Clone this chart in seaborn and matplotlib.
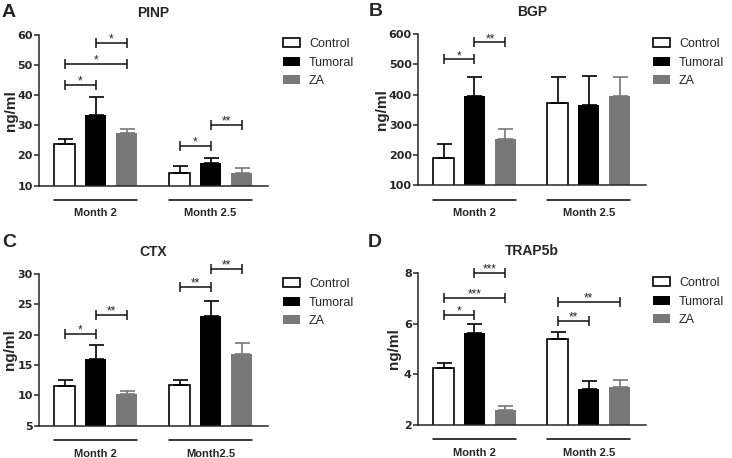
import matplotlib
matplotlib.use("Agg")
import matplotlib.pyplot as plt
import seaborn as sns
import pandas as pd

groups = ["Control", "Tumoral", "ZA"]
palette = ["#ffffff", "#000000", "#787878"]
err_colors = ["#000000", "#000000", "#787878"]

# Panel A - PINP
pinp_months = ["Month 2", "Month 2.5"]
pinp_control = [23.8, 14.1]
pinp_tumoral = [33.5, 17.6]
pinp_za = [27.3, 14.3]
pinp_control_err = [1.6, 2.2]
pinp_tumoral_err = [5.7, 1.6]
pinp_za_err = [1.4, 1.4]
pinp_sig = [(0, 0, 1, 43.3, "*"), (0, 0, 2, 50.2, "*"), (0, 1, 2, 57.2, "*"),
            (1, 0, 1, 23.1, "*"), (1, 1, 2, 30.0, "**")]

# Panel B - BGP
bgp_months = ["Month 2", "Month 2.5"]
bgp_control = [189, 371]
bgp_tumoral = [396, 364]
bgp_za = [254, 396]
bgp_control_err = [46, 86]
bgp_tumoral_err = [62, 96]
bgp_za_err = [31, 61]
bgp_sig = [(0, 0, 1, 516, "*"), (0, 1, 2, 572, "**")]

# Panel C - CTX
ctx_months = ["Month 2", "Month2.5"]
ctx_control = [11.5, 11.7]
ctx_tumoral = [16.0, 23.0]
ctx_za = [10.3, 16.8]
ctx_control_err = [1.1, 0.8]
ctx_tumoral_err = [2.3, 2.6]
ctx_za_err = [0.5, 1.8]
ctx_sig = [(0, 0, 1, 20.1, "*"), (0, 1, 2, 23.2, "**"),
           (1, 0, 1, 27.9, "**"), (1, 1, 2, 30.9, "**")]

# Panel D - TRAP5b
trap_months = ["Month 2", "Month 2.5"]
trap_control = [4.25, 5.41]
trap_tumoral = [5.64, 3.43]
trap_za = [2.58, 3.48]
trap_control_err = [0.21, 0.27]
trap_tumoral_err = [0.36, 0.30]
trap_za_err = [0.15, 0.29]
trap_sig = [(0, 0, 1, 6.35, "*"), (0, 0, 2, 7.02, "***"), (0, 1, 2, 8.0, "***"),
            (1, 0, 1, 6.11, "**"), (1, 0, 2, 6.85, "**")]

sns.set_style("ticks")
plt.rcParams["font.family"] = ["Liberation Sans", "DejaVu Sans"]

W, H = 732, 458
fig = plt.figure(figsize=(W / 100, H / 100), dpi=100)


def rect(l, r, t, b):
    return [l / W, 1 - b / H, (r - l) / W, (b - t) / H]


def panel(r, months, means, errs, ylim, yticks, sig, title, letter, letter_px,
          legend_px, ylabel_x):
    ax = fig.add_axes(rect(*r))
    df = pd.DataFrame({
        "month": [m for g in groups for m in months],
        "group": [g for g in groups for _ in months],
        "value": [v for arr in means for v in arr],
    })
    sns.barplot(data=df, x="month", y="value", hue="group", order=months,
                hue_order=groups, palette=palette, saturation=1, width=0.81,
                gap=0.32, errorbar=None, legend=False, ax=ax)
    bars = list(ax.containers)
    for i, cont in enumerate(bars):
        for p in cont:
            if i == 0:
                p.set_edgecolor("black")
                p.set_linewidth(1.2)
            else:
                p.set_edgecolor(palette[i])
                p.set_linewidth(0)
        xs = [p.get_x() + p.get_width() / 2 for p in cont]
        ax.errorbar(xs, means[i], yerr=[[0] * len(xs), errs[i]], fmt="none",
                    ecolor=err_colors[i], elinewidth=1.2, capsize=5.4,
                    capthick=1.2)

    def cx(h, m):
        p = bars[h][m]
        return p.get_x() + p.get_width() / 2

    for (m, a, b, y, s) in sig:
        x1, x2 = cx(a, m), cx(b, m)
        ax.plot([x1, x2], [y, y], color="#111111", lw=1.1, marker="|", ms=7,
                mew=1.1, clip_on=False, solid_capstyle="butt")
        ax.annotate(s, xy=((x1 + x2) / 2, y), xytext=(0, 0.3),
                    textcoords="offset points", ha="center", va="baseline",
                    fontsize=8.5, annotation_clip=False)

    for m in range(len(months)):
        xl = bars[0][m].get_x()
        xr = bars[2][m].get_x() + bars[2][m].get_width()
        ax.plot([xl, xr], [-0.096, -0.096], transform=ax.get_xaxis_transform(),
                color="black", lw=1.1, clip_on=False)

    ax.set_xlim(-0.494, 1.5)
    ax.set_ylim(*ylim)
    ax.set_yticks(yticks)
    sns.despine(ax=ax)
    for sp in ("left", "bottom"):
        ax.spines[sp].set_linewidth(1.1)
    ax.set_xlabel("")
    ax.set_ylabel("ng/ml", fontsize=11, fontweight="bold")
    ax.yaxis.set_label_coords(ylabel_x, 0.5)
    ax.tick_params(axis="y", length=3.5, width=1.1, labelsize=8, pad=1)
    ax.tick_params(axis="x", length=0, pad=16.5, labelsize=8)
    for t in ax.get_xticklabels():
        t.set_fontweight("bold")
    for t in ax.get_yticklabels():
        t.set_fontweight("bold")
        t.set_fontfamily("DejaVu Sans")
    ax.set_title(title, fontsize=10, fontweight="bold", pad=13)
    fig.text(letter_px[0] / W, 1 - letter_px[1] / H, letter, fontsize=14,
             fontweight="bold", ha="left", va="baseline")
    ax.legend(bars, groups, loc="upper left",
              bbox_to_anchor=(legend_px[0] / W, 1 - legend_px[1] / H),
              bbox_transform=fig.transFigure, frameon=False, fontsize=9,
              borderpad=0, borderaxespad=0, handlelength=1.36,
              handleheight=0.72, handletextpad=0.72, labelspacing=0.52)
    return ax


panel((39, 268, 34.7, 185.5), pinp_months,
      [pinp_control, pinp_tumoral, pinp_za],
      [pinp_control_err, pinp_tumoral_err, pinp_za_err],
      (10, 60), [10, 20, 30, 40, 50, 60], pinp_sig, "PINP", "A", (2, 17),
      (283, 38.3), -0.092)

panel((418, 646, 34, 185.3), bgp_months,
      [bgp_control, bgp_tumoral, bgp_za],
      [bgp_control_err, bgp_tumoral_err, bgp_za_err],
      (100, 600), [100, 200, 300, 400, 500, 600], bgp_sig, "BGP", "B", (369, 16),
      (653, 38.3), -0.127)

panel((39, 268, 274, 425.7), ctx_months,
      [ctx_control, ctx_tumoral, ctx_za],
      [ctx_control_err, ctx_tumoral_err, ctx_za_err],
      (5, 30), [5, 10, 15, 20, 25, 30], ctx_sig, "CTX", "C", (2, 247),
      (283, 278.3), -0.096)

panel((418, 646, 273.3, 424.7), trap_months,
      [trap_control, trap_tumoral, trap_za],
      [trap_control_err, trap_tumoral_err, trap_za_err],
      (2, 8), [2, 4, 6, 8], trap_sig, "TRAP5b", "D", (368, 247),
      (653, 277.3), -0.075)

fig.savefig("out.png", dpi=100)
